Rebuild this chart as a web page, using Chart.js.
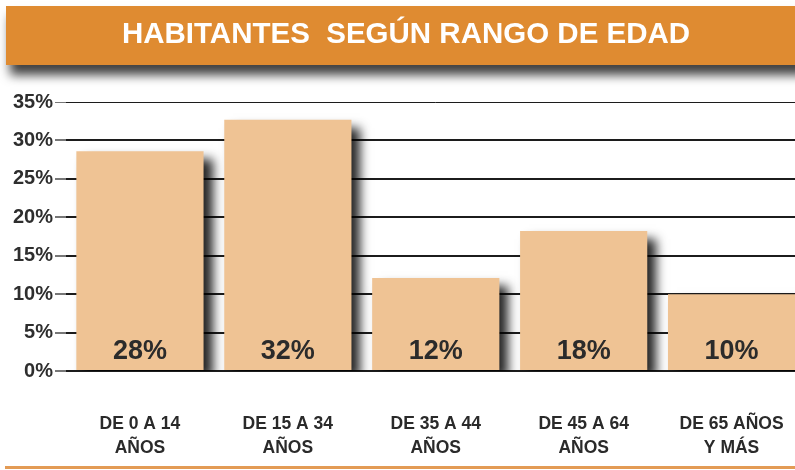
<!DOCTYPE html>
<html>
<head>
<meta charset="utf-8">
<script src="https://cdn.jsdelivr.net/npm/chart.js@4"></script>
<style>
    html, body { margin: 0; padding: 0; background: #fff; overflow: hidden; }
    #wrap { width: 817px; height: 470px; position: relative; }
</style>
</head>
<body>
<div id="wrap"><canvas id="edades"></canvas></div>
<script>
const titulo = "HABITANTES  SEGÚN RANGO DE EDAD";
const rangos = [
    ["DE 0 A 14", "AÑOS"],
    ["DE 15 A 34", "AÑOS"],
    ["DE 35 A 44", "AÑOS"],
    ["DE 45 A 64", "AÑOS"],
    ["DE 65 AÑOS", "Y MÁS"]
];
const porcentajes = [28.6, 32.7, 12.1, 18.2, 10.0];
const etiquetas = ["28%", "32%", "12%", "18%", "10%"];
const ticksY = [0, 5, 10, 15, 20, 25, 30, 35];

const banner = {
    id: "banner",
    beforeDraw(chart) {
        const ctx = chart.ctx;
        ctx.save();
        ctx.fillStyle = "#fff";
        ctx.fillRect(0, 0, chart.width, chart.height);
        ctx.shadowColor = "rgba(0,0,0,0.75)";
        ctx.shadowBlur = 10;
        ctx.shadowOffsetX = 4;
        ctx.shadowOffsetY = 10;
        ctx.fillStyle = "#DF8B31";
        ctx.fillRect(6, 6, 820, 59);
        ctx.restore();
        ctx.save();
        ctx.fillStyle = "#fff";
        ctx.font = "bold 29.5px 'Liberation Sans', Arial, sans-serif";
        ctx.textAlign = "center";
        ctx.textBaseline = "middle";
        ctx.fillText(titulo, 406, 35);
        ctx.restore();
    },
    afterDraw(chart) {
        const ctx = chart.ctx;
        ctx.save();
        ctx.fillStyle = "#E39B55";
        ctx.fillRect(5, 466, 820, 3);
        ctx.restore();
    }
};

const sombra = {
    id: "sombra",
    beforeDatasetsDraw(chart) {
        const ctx = chart.ctx;
        ctx.save();
        ctx.shadowColor = "rgba(0,0,0,0.85)";
        ctx.shadowBlur = 10;
        ctx.shadowOffsetX = 9;
        ctx.shadowOffsetY = 8;
    },
    afterDatasetsDraw(chart) {
        const ctx = chart.ctx;
        ctx.restore();
        const meta = chart.getDatasetMeta(0);
        const y0 = chart.scales.y.getPixelForValue(0);
        ctx.save();
        ctx.fillStyle = "#2b2b2b";
        ctx.font = "bold 27px 'Liberation Sans', Arial, sans-serif";
        ctx.textAlign = "center";
        ctx.textBaseline = "middle";
        meta.data.forEach((bar, i) => {
            ctx.fillText(etiquetas[i], bar.x, y0 - 19);
        });
        ctx.restore();
    }
};

new Chart(document.getElementById("edades"), {
    type: "bar",
    data: {
        labels: rangos,
        datasets: [{
            data: porcentajes,
            backgroundColor: "#EFC394",
            borderWidth: 0,
            categoryPercentage: 1,
            barPercentage: 0.86
        }]
    },
    options: {
        responsive: true,
        maintainAspectRatio: false,
        animation: false,
        layout: { padding: { top: 102, right: 4, bottom: 0, left: 0 } },
        plugins: {
            legend: { display: false },
            tooltip: { enabled: false }
        },
        scales: {
            x: {
                grid: { display: false },
                border: { display: false },
                ticks: {
                    color: "#2a2a2a",
                    padding: 33,
                    maxRotation: 0,
                    font: { family: "'Liberation Sans', Arial", weight: "bold", size: 17.5, lineHeight: 1.37 }
                },
                afterFit: s => { s.height = 99; }
            },
            y: {
                min: 0,
                max: 35,
                afterBuildTicks: s => { s.ticks = ticksY.map(v => ({ value: v })); },
                border: { display: false },
                grid: {
                    color: "#1c1c1c",
                    lineWidth: c => (c.tick && c.tick.value === 35 ? 1 : 2),
                    tickLength: 11,
                    tickColor: "#777"
                },
                ticks: {
                    color: "#2e2e2e",
                    padding: 2,
                    font: { family: "'Liberation Sans', Arial", weight: "bold", size: 20 },
                    callback: v => v + "%"
                },
                afterFit: s => { s.width = 66; }
            }
        }
    },
    plugins: [banner, sombra]
});
</script>
</body>
</html>
